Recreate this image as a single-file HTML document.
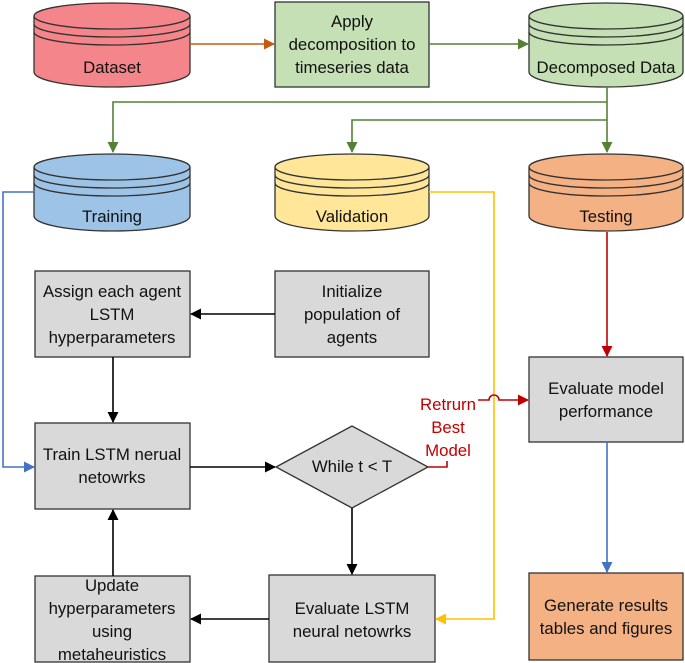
<!DOCTYPE html>
<html><head><meta charset="utf-8"><style>
html,body{margin:0;padding:0;background:#fff}
svg{display:block}
text{font-family:"Liberation Sans",sans-serif;font-size:16.8px;fill:#111;text-anchor:middle}
</style></head><body>
<svg width="685" height="663" viewBox="0 0 685 663" xmlns="http://www.w3.org/2000/svg">
<defs>
<marker id="ak" markerWidth="11" markerHeight="11" refX="10" refY="5.5" orient="auto" markerUnits="userSpaceOnUse"><path d="M0,0 L11,5.5 L0,11 z" fill="#000"/></marker>
<marker id="ag" markerWidth="11" markerHeight="11" refX="10" refY="5.5" orient="auto" markerUnits="userSpaceOnUse"><path d="M0,0 L11,5.5 L0,11 z" fill="#548235"/></marker>
<marker id="ao" markerWidth="11" markerHeight="11" refX="10" refY="5.5" orient="auto" markerUnits="userSpaceOnUse"><path d="M0,0 L11,5.5 L0,11 z" fill="#c55a11"/></marker>
<marker id="ab" markerWidth="11" markerHeight="11" refX="10" refY="5.5" orient="auto" markerUnits="userSpaceOnUse"><path d="M0,0 L11,5.5 L0,11 z" fill="#4472c4"/></marker>
<marker id="ay" markerWidth="11" markerHeight="11" refX="10" refY="5.5" orient="auto" markerUnits="userSpaceOnUse"><path d="M0,0 L11,5.5 L0,11 z" fill="#ffc000"/></marker>
<marker id="ar" markerWidth="11" markerHeight="11" refX="10" refY="5.5" orient="auto" markerUnits="userSpaceOnUse"><path d="M0,0 L11,5.5 L0,11 z" fill="#c00000"/></marker>
</defs>
<g stroke="#333" stroke-width="1.3">
<path d="M34,16 L34,72 A78,15 0 0 0 190,72 L190,16" fill="#f4858a"/>
<ellipse cx="112" cy="16" rx="78" ry="13" fill="#f4858a"/>
<path d="M34,24 A78,13 0 0 0 190,24 M34,32 A78,13 0 0 0 190,32" fill="none"/>
<path d="M529,16 L529,72 A77,15 0 0 0 683,72 L683,16" fill="#c5e0b4"/>
<ellipse cx="606" cy="16" rx="77" ry="13" fill="#c5e0b4"/>
<path d="M529,24 A77,13 0 0 0 683,24 M529,32 A77,13 0 0 0 683,32" fill="none"/>
<path d="M34,167 L34,216 A78,15 0 0 0 190,216 L190,167" fill="#9dc3e6"/>
<ellipse cx="112" cy="167" rx="78" ry="13" fill="#9dc3e6"/>
<path d="M34,175 A78,13 0 0 0 190,175 M34,183 A78,13 0 0 0 190,183" fill="none"/>
<path d="M275,167 L275,216 A77,15 0 0 0 429,216 L429,167" fill="#ffe699"/>
<ellipse cx="352" cy="167" rx="77" ry="13" fill="#ffe699"/>
<path d="M275,175 A77,13 0 0 0 429,175 M275,183 A77,13 0 0 0 429,183" fill="none"/>
<path d="M529,167 L529,216 A77,15 0 0 0 683,216 L683,167" fill="#f4b183"/>
<ellipse cx="606" cy="167" rx="77" ry="13" fill="#f4b183"/>
<path d="M529,175 A77,13 0 0 0 683,175 M529,183 A77,13 0 0 0 683,183" fill="none"/>
<rect x="275" y="2" width="154" height="85" fill="#c5e0b4"/>
<rect x="35" y="271" width="155" height="86" fill="#d9d9d9"/>
<rect x="275" y="271" width="154" height="86" fill="#d9d9d9"/>
<rect x="35" y="423" width="155" height="86" fill="#d9d9d9"/>
<path d="M276,467 L352,426 L428,467 L352,508 z" fill="#d9d9d9"/>
<rect x="529" y="357" width="154" height="85" fill="#d9d9d9"/>
<rect x="35" y="576" width="155" height="86" fill="#d9d9d9"/>
<rect x="269" y="575" width="166" height="87" fill="#d9d9d9"/>
<rect x="529" y="573" width="154" height="87" fill="#f4b183"/>
</g>
<g fill="none" stroke-width="1.6">
<path d="M190,44 L274,44" stroke="#c55a11" marker-end="url(#ao)"/>
<path d="M429,44 L528,44" stroke="#548235" marker-end="url(#ag)"/>
<path d="M607,87 L607,152" stroke="#548235" marker-end="url(#ag)"/>
<path d="M607,102 L113,102 L113,152" stroke="#548235" marker-end="url(#ag)"/>
<path d="M607,120 L352,120 L352,152" stroke="#548235" marker-end="url(#ag)"/>
<path d="M34,192 L3,192 L3,467 L34,467" stroke="#4472c4" marker-end="url(#ab)"/>
<path d="M429,192 L494,192 L494,619 L436,619" stroke="#ffc000" marker-end="url(#ay)"/>
<path d="M607,232 L607,356" stroke="#c00000" marker-end="url(#ar)"/>
<path d="M607,442 L607,572" stroke="#4472c4" marker-end="url(#ab)"/>
<path d="M478,400 L489,400 A5,5 0 0 1 499,400 L528,400" stroke="#c00000" marker-end="url(#ar)"/>
<path d="M428,467 L447,467 L447,461" stroke="#c00000"/>
<path d="M275,314 L191,314" stroke="#000" marker-end="url(#ak)"/>
<path d="M113,357 L113,422" stroke="#000" marker-end="url(#ak)"/>
<path d="M190,467 L275,467" stroke="#000" marker-end="url(#ak)"/>
<path d="M352,508 L352,574" stroke="#000" marker-end="url(#ak)"/>
<path d="M269,619 L191,619" stroke="#000" marker-end="url(#ak)"/>
<path d="M113,576 L113,510" stroke="#000" marker-end="url(#ak)"/>
</g>
<text x="112" y="73">Dataset</text>
<text x="352" y="27">Apply</text>
<text x="352" y="50">decomposition to</text>
<text x="352" y="73">timeseries data</text>
<text x="606" y="73">Decomposed Data</text>
<text x="112" y="222">Training</text>
<text x="352" y="222">Validation</text>
<text x="606" y="222">Testing</text>
<text x="112" y="297">Assign each agent</text>
<text x="112" y="320">LSTM</text>
<text x="112" y="343">hyperparameters</text>
<text x="352" y="297">Initialize</text>
<text x="352" y="320">population of</text>
<text x="352" y="343">agents</text>
<text x="112" y="460">Train LSTM nerual</text>
<text x="112" y="483">netowrks</text>
<text x="352" y="472">While t &lt; T</text>
<text x="606" y="394">Evaluate model</text>
<text x="606" y="417">performance</text>
<text x="448" y="410" style="fill:#c00000">Retrurn</text>
<text x="448" y="433" style="fill:#c00000">Best</text>
<text x="448" y="456" style="fill:#c00000">Model</text>
<text x="112" y="591">Update</text>
<text x="112" y="614">hyperparameters</text>
<text x="112" y="637">using</text>
<text x="112" y="660">metaheuristics</text>
<text x="352" y="614">Evaluate  LSTM</text>
<text x="352" y="637">neural netowrks</text>
<text x="606" y="611">Generate results</text>
<text x="606" y="634">tables and figures</text>
</svg>
</body></html>
